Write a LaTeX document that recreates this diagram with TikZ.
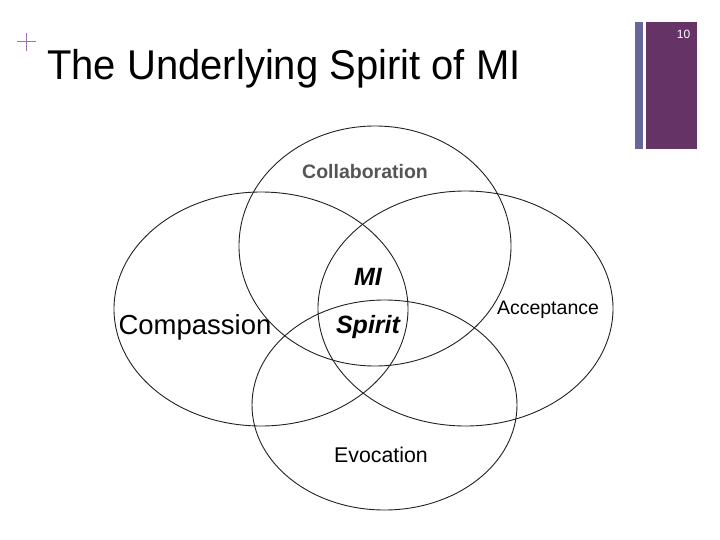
\documentclass[tikz,border=0pt]{standalone}
\usepackage{fontspec}
\setmainfont{Liberation Sans}
\usetikzlibrary{shapes.geometric}
\definecolor{barpurple}{HTML}{663366}
\definecolor{barslate}{HTML}{666699}
\definecolor{pluspurple}{HTML}{A070B0}
\definecolor{labelgray}{HTML}{555555}
\definecolor{vennline}{HTML}{222222}
\tikzset{
  venn/.style={draw=vennline, line width=0.9pt},
  lbl/.style={inner sep=0pt, anchor=center},
}
\begin{document}
\begin{tikzpicture}[x=1pt,y=-1pt]
\useasboundingbox[fill=white] (0,0) rectangle (720,540);
% right bars
\fill[barslate] (635,22) rectangle (643,149);
\fill[barpurple] (646,22) rectangle (697,149);
\node[lbl, text=white, font=\fontsize{12}{14}\selectfont] (pg) at (683.5,34) {10};
% plus sign
\draw[pluspurple, line width=1pt] (17,42) -- (36,42) (26.5,33) -- (26.5,51);
% title
\node[anchor=base west, inner sep=0pt, font=\fontsize{40}{44}\selectfont] (title) at (47,80) {\scalebox{1}[1.04]{The Underlying Spirit of MI}};
% ellipses
\draw[venn] (375,246) ellipse [x radius=136pt, y radius=120pt];
\draw[venn] (261,309) ellipse [x radius=147pt, y radius=117pt];
\draw[venn] (465.5,308.5) ellipse [x radius=147.5pt, y radius=117.5pt];
\draw[venn] (384.5,405) ellipse [x radius=132.5pt, y radius=105pt];
% labels
\node[lbl, text=labelgray, font=\fontsize{19.5}{22}\selectfont\bfseries] (collab) at (365,172) {Collaboration};
\node[lbl, font=\fontsize{27.5}{30}\selectfont] (compass) at (195,327) {Compassion};
\node[lbl, font=\fontsize{19.5}{22}\selectfont] (accept) at (548,310) {Acceptance};
\node[lbl, font=\fontsize{21.3}{24}\selectfont] (evoc) at (381,455) {Evocation};
\node[lbl, font=\fontsize{25}{28}\selectfont\bfseries\itshape] (mi) at (368,277) {MI};
\node[lbl, font=\fontsize{25}{28}\selectfont\bfseries\itshape] (spirit) at (368,327) {Spirit};
\end{tikzpicture}
\end{document}
